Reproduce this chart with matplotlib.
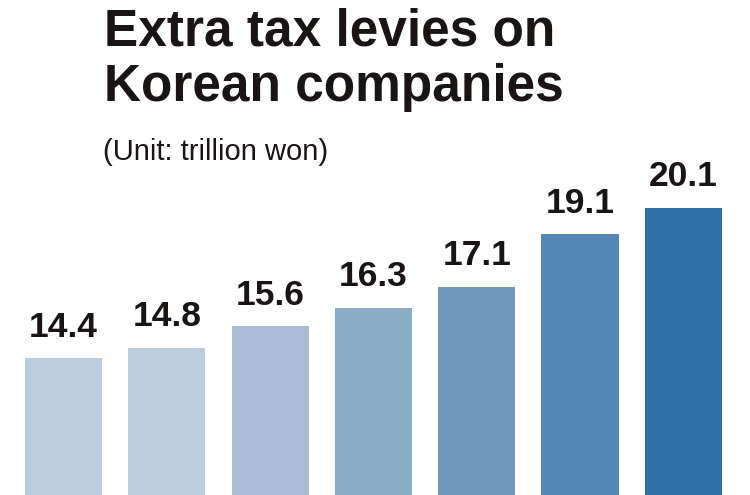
import matplotlib
matplotlib.use("Agg")
import matplotlib.pyplot as plt

values = [14.4, 14.8, 15.6, 16.3, 17.1, 19.1, 20.1]
labels = ["14.4", "14.8", "15.6", "16.3", "17.1", "19.1", "20.1"]
colors = ["#b9cce0", "#bbcee1", "#a8bcd4", "#8badc8", "#6f96bb", "#5487b5", "#2e71a2"]

title_lines = ["Extra tax levies on", "Korean companies"]
subtitle = "(Unit: trillion won)"

plt.rcParams['font.family'] = ['Liberation Sans', 'DejaVu Sans']

fig = plt.figure(figsize=(7.5, 4.95), dpi=100)
ax = fig.add_axes([0, 0, 1, 1])
x = list(range(len(values)))
ax.bar(x, values, width=0.746, color=colors, edgecolor='none')
for xi, v, lab in zip(x, values, labels):
    ax.annotate(lab, (xi, v), xytext=(0, 10.5), textcoords='offset points',
                ha='center', va='bottom', fontsize=25.5, fontweight='bold', color='#1a1414')
ax.set_xlim(-0.615, 6.646)
ax.set_ylim(9.2, 28.0)
ax.axis('off')

for i, line in enumerate(title_lines):
    fig.text(104/750, 1 - (46 + 55 * i)/495, line, fontsize=37, fontweight='bold',
             color='#1a1414', ha='left', va='baseline')
fig.text(103/750, 1 - 160/495, subtitle, fontsize=21, color='#1a1414', ha='left', va='baseline')

fig.savefig("out.png", dpi=100)
